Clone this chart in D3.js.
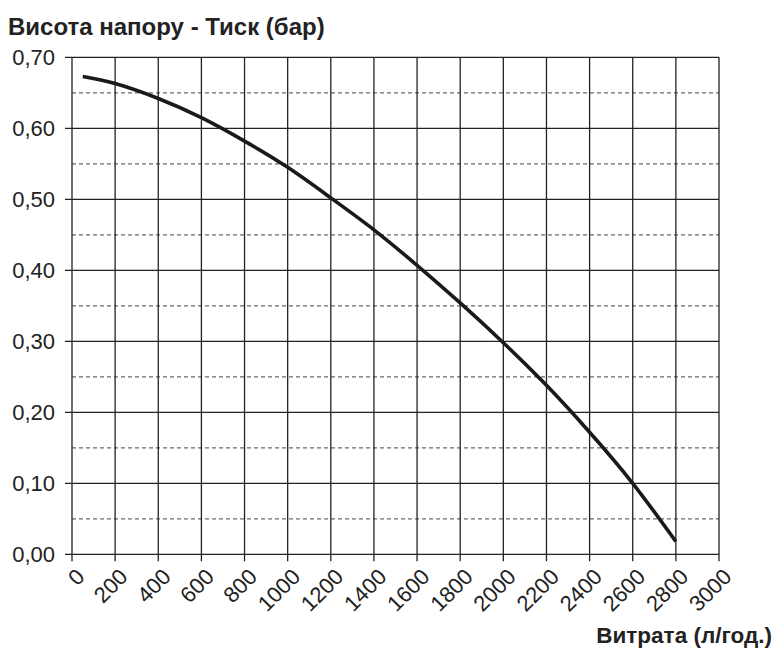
<!DOCTYPE html>
<html><head><meta charset="utf-8">
<script src="https://cdn.jsdelivr.net/npm/d3@7"></script>
<style>body{margin:0;background:#fff}svg{display:block}</style>
</head><body>
<svg id="c" width="776" height="653"></svg>
<script>
const flow = [50, 200, 400, 600, 800, 1000, 1200, 1400, 1600, 1800, 2000, 2200, 2400, 2600, 2800];
const pressure = [0.673, 0.663, 0.642, 0.615, 0.582, 0.545, 0.502, 0.457, 0.407, 0.354, 0.298, 0.238, 0.172, 0.100, 0.018];
const xTicks = [0,200,400,600,800,1000,1200,1400,1600,1800,2000,2200,2400,2600,2800,3000];
const yTicks = [0,0.1,0.2,0.3,0.4,0.5,0.6,0.7];
const yMinor = [0.05,0.15,0.25,0.35,0.45,0.55,0.65];
const titleText = "Висота напору - Тиск (бар)";
const xTitle = "Витрата (л/год.)";

const svg = d3.select("#c");
const font = "'Liberation Sans', Arial, sans-serif";
const x = d3.scaleLinear().domain([0,3000]).range([72,719]);
const y = d3.scaleLinear().domain([0,0.7]).range([554.3,57.3]);
const fmt = d => d.toFixed(2).replace(".", ",");

// minor dashed
svg.append("g").selectAll("line").data(yMinor).join("line")
  .attr("x1", x(0)).attr("x2", x(3000))
  .attr("y1", d=>y(d)).attr("y2", d=>y(d))
  .attr("stroke","#6a6a6a").attr("stroke-width",1.2).attr("stroke-dasharray","4,3");
// vertical grid
svg.append("g").selectAll("line").data(xTicks).join("line")
  .attr("x1", d=>x(d)).attr("x2", d=>x(d))
  .attr("y1", y(0)+7).attr("y2", y(0.7))
  .attr("stroke","#222").attr("stroke-width",1.3);
// horizontal grid
svg.append("g").selectAll("line").data(yTicks).join("line")
  .attr("x1", x(0)-7).attr("x2", x(3000))
  .attr("y1", d=>y(d)).attr("y2", d=>y(d))
  .attr("stroke","#222").attr("stroke-width",1.3);

// y labels
svg.append("g").selectAll("text").data(yTicks).join("text")
  .attr("x", 55).attr("y", d=>y(d)).attr("dy","0.36em")
  .attr("text-anchor","end").attr("font-family",font).attr("font-size",22).attr("fill","#222")
  .text(fmt);
// x labels
svg.append("g").selectAll("text").data(xTicks).join("text")
  .attr("transform", d=>`translate(${x(d)+3},${y(0)+13}) rotate(-45)`)
  .attr("text-anchor","end").attr("dy","0.7em")
  .attr("font-family",font).attr("font-size",22).attr("fill","#222")
  .text(d=>d);

// curve
const line = d3.line().x((d,i)=>x(flow[i])).y((d,i)=>y(pressure[i])).curve(d3.curveNatural);
svg.append("path").datum(pressure).attr("d", line)
  .attr("fill","none").attr("stroke","#1a1a1a").attr("stroke-width",3.6);

svg.append("text").attr("x",8).attr("y",35).attr("font-family",font).attr("font-weight","bold")
  .attr("font-size",24).attr("fill","#222").text(titleText);
svg.append("text").attr("x",772).attr("y",643).attr("text-anchor","end").attr("font-family",font).attr("font-weight","bold")
  .attr("font-size",22.5).attr("fill","#222").text(xTitle);
</script>
</body></html>
